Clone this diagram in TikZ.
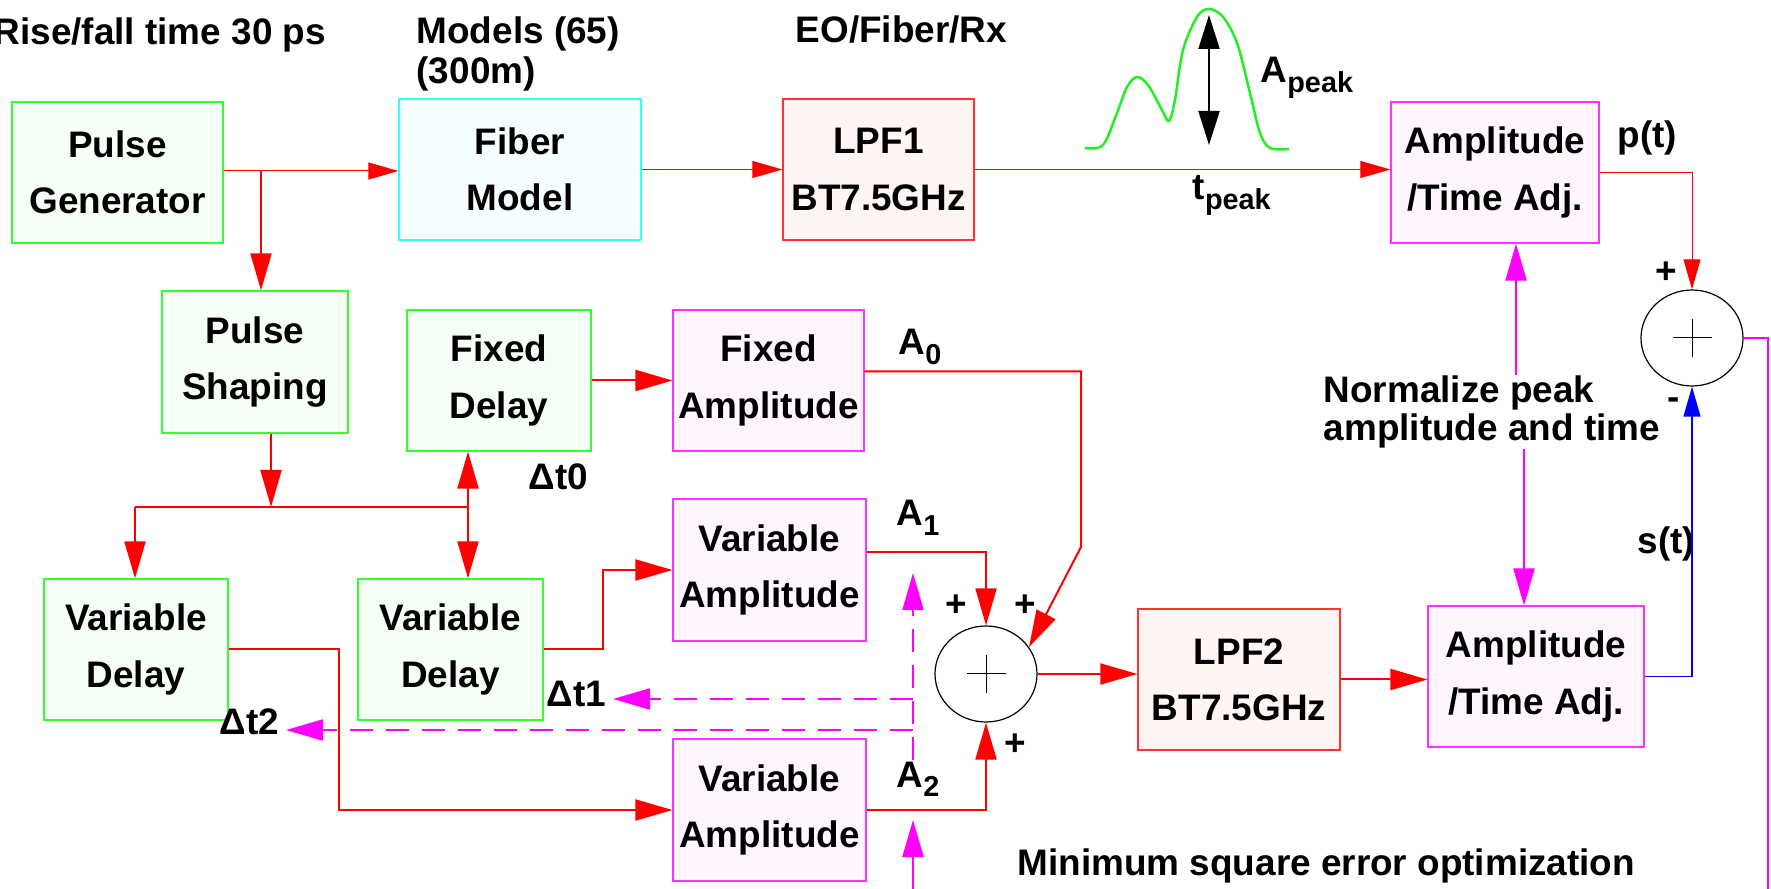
\documentclass[tikz,border=0pt]{standalone}
\usepackage{fontspec}
\setmainfont{Liberation Sans}
\usetikzlibrary{arrows.meta,shapes.geometric}
\definecolor{gline}{HTML}{33FF33}
\definecolor{gfill}{HTML}{F5FFF5}
\definecolor{cline}{HTML}{33FFFF}
\definecolor{cfill}{HTML}{F5FFFF}
\definecolor{rline}{HTML}{FF3333}
\definecolor{rfill}{HTML}{FFF5F5}
\definecolor{mline}{HTML}{FF33FF}
\definecolor{mfill}{HTML}{FFF5FF}
\definecolor{mag}{HTML}{FF00FF}
\definecolor{wave}{HTML}{22F022}
\newcommand{\lowsub}[1]{\raisebox{-0.95mm}{\fontsize{8.2}{8.2}\selectfont #1}}
\tikzset{
  lbl/.style={font=\fontsize{10.5}{16}\selectfont\bfseries, inner sep=0pt},
  blk/.style={lbl, draw, line width=0.12mm, align=center, minimum height=14.1mm},
  grnblk/.style={blk, draw=gline, fill=gfill},
  cynblk/.style={blk, draw=cline, fill=cfill},
  redblk/.style={blk, draw=rline, fill=rfill},
  magblk/.style={blk, draw=mline, fill=mfill},
  sumnode/.style={ellipse, draw, line width=0.12mm, minimum width=10.2mm, minimum height=9.6mm, inner sep=0pt},
  sarr/.style={-{Triangle[length=3mm,width=1.7mm]}},
  barr/.style={-{Triangle[length=3.7mm,width=2.1mm]}},
  thinred/.style={red, line width=0.1mm},
  thickred/.style={red, line width=0.2mm},
  magline/.style={mag, line width=0.22mm},
  magdash/.style={mag, line width=0.2mm, dash pattern=on 2.3mm off 1.3mm},
}
\begin{document}
\begin{tikzpicture}[x=0.1mm,y=-0.1mm]
 \useasboundingbox (0,0) rectangle (1771,889);
 % top row
 \node[grnblk, minimum width=21.1mm] (pg) at (117.5,172.5) {Pulse\\Generator};
 \node[cynblk, minimum width=24.2mm] (fib) at (520,169.5) {Fiber\\Model};
 \node[redblk, minimum width=19.1mm] (lpfa) at (878.5,169.5) {LPF1\\BT7.5GHz};
 \node[magblk, minimum width=20.8mm] (adja) at (1495,172.5) {Amplitude\\/Time Adj.};
 % lower blocks
 \node[grnblk, minimum width=18.6mm, minimum height=14.2mm] (shp) at (255,362) {Pulse\\Shaping};
 \node[grnblk, minimum width=18.4mm] (fxd) at (499,380.5) {Fixed\\Delay};
 \node[magblk, minimum width=19.1mm] (fxa) at (768.5,380.5) {Fixed\\Amplitude};
 \node[magblk, minimum width=19.3mm, minimum height=14.2mm] (vaa) at (769.5,570) {Variable\\Amplitude};
 \node[grnblk, minimum width=18.4mm] (vda) at (136,649.5) {Variable\\Delay};
 \node[grnblk, minimum width=18.5mm] (vdb) at (450.5,649.5) {Variable\\Delay};
 \node[magblk, minimum width=19.3mm, minimum height=14.2mm] (vab) at (769.5,810) {Variable\\Amplitude};
 \node[redblk, minimum width=20.2mm] (lpfb) at (1239,679.5) {LPF2\\BT7.5GHz};
 \node[magblk, minimum width=21.6mm] (adjb) at (1536,676.5) {Amplitude\\/Time Adj.};
 \node[sumnode] (suma) at (1692,338) {};
 \node[sumnode] (sumb) at (986,674) {};
 \foreach \s in {suma,sumb}
  \draw[line width=0.1mm] ([xshift=-1.95mm]\s.center) -- ([xshift=1.95mm]\s.center)
   ([yshift=-1.9mm]\s.center) -- ([yshift=1.9mm]\s.center);
 % texts
 \node[lbl, anchor=base west] (rise) at (-7,45) {Rise/fall time 30 ps};
 \node[lbl, anchor=north west, align=left, font=\fontsize{10.5}{11.4}\selectfont\bfseries] (mdl) at (416,16) {Models (65)\\(300m)};
 \node[lbl, anchor=base west] (eo) at (795,43) {EO/Fiber/Rx};
 \node[lbl, anchor=base west] (apk) at (1260,83) {A\lowsub{peak}};
 \node[lbl, anchor=base west] (tpk) at (1192,200) {t\lowsub{peak}};
 \node[lbl, anchor=base west] (pt) at (1617,148) {p(t)};
 \node[lbl, anchor=base west] (st) at (1637,554) {s(t)};
 \node[lbl, anchor=base west] (aa0) at (898,355) {A\lowsub{0}};
 \node[lbl, anchor=base west] (aa1) at (896,526) {A\lowsub{1}};
 \node[lbl, anchor=base west] (aa2) at (896,787) {A\lowsub{2}};
 \node[lbl, anchor=base west] (dt0) at (528,490) {Δt0};
 \node[lbl, anchor=base east, inner xsep=0.6mm] (dta) at (613,707) {Δt1};
 \node[lbl, anchor=base east, inner xsep=0.6mm] (dtb) at (286,734) {Δt2};
 \node[lbl] (pla) at (1666,273) {+};
 \node[lbl] (mna) at (1674,404) {-};
 \node[lbl] (plb) at (956,606) {+};
 \node[lbl] (plc) at (1025,606) {+};
 \node[lbl] (pld) at (1015,745) {+};
 \node[lbl, anchor=north west, align=left, font=\fontsize{10.5}{10.8}\selectfont\bfseries] (nrm) at (1323,375) {Normalize peak\\amplitude and time};
 \node[lbl, anchor=base west] (mse) at (1017,875) {Minimum square error optimization};
 % pulse shape
 \draw[wave, line width=0.25mm] plot[smooth, tension=0.55] coordinates {(1085,148) (1103,145) (1117,113) (1127,87) (1137,77) (1148,85) (1162,110) (1169,121) (1175,100) (1183,50) (1197,17) (1209,9) (1223,17) (1237,43) (1250,93) (1260,133) (1270,148) (1289,149)};
 \draw[line width=0.2mm, {Triangle[length=3.4mm,width=2.1mm]}-{Triangle[length=3.4mm,width=2.1mm]}] (1209,15) -- (1209,145);
 % signal path
 \coordinate (brk) at (261,171);
 \draw[thinred, sarr] (pg.east |- brk) -- (fib.west |- brk);
 \draw[thinred, sarr] (fib.east) -- (lpfa.west);
 \draw[thinred, sarr] (lpfa.east) -- (lpfa.east -| adja.west);
 \draw[thinred, sarr] (adja.east) -| (suma.north);
 \draw[thickred, barr] (brk) -- (brk |- shp.north);
 \coordinate (jc) at (271,507);
 \coordinate (jl) at (135,507);
 \coordinate (jr) at (468,507);
 \draw[thickred, barr] (jc |- shp.south) -- (jc);
 \draw[thickred] (jl) -- (jr);
 \draw[thickred, barr] (jl) -- (jl |- vda.north);
 \draw[thickred, barr] (jr) -- (jr |- vdb.north);
 \draw[thickred, barr] (jr) -- (jr |- fxd.south);
 \draw[thickred, barr] (fxd.east) -- (fxa.west);
 \coordinate (fk) at (1081,547);
 \draw[thickred, barr] ([yshift=0.9mm]fxa.east) -| (fk) -- (sumb.32);
 \draw[thickred, barr] (vdb.east) -- ++(59,0) |- (vaa.west);
 \draw[thickred, barr] ([yshift=1.8mm]vaa.east) -| (sumb.north);
 \draw[thickred, barr] (vda.east) -- ++(110,0) |- (vab.west);
 \draw[thickred, barr] (vab.east) -| (sumb.south);
 \draw[thickred, barr] (sumb.east) -- (sumb.east -| lpfb.west);
 \draw[thickred, barr] (lpfb.east) -- (lpfb.east -| adjb.west);
 \draw[blue, line width=0.12mm, sarr] (adjb.east) -| (suma.south);
 \coordinate (fbk) at (1768,900);
 \draw[magline] (suma.east) -| (fbk);
 % normalization
 \coordinate (nup) at (1516,0);
 \coordinate (ndn) at (1524,0);
 \draw[magline, barr] (nrm.north -| nup) -- (nup |- adja.south);
 \draw[magline, barr] (nrm.south -| ndn) -- (ndn |- adjb.north);
 % optimizer feedback
 \coordinate (dtop) at (913,573);
 \coordinate (dbot) at (913,760);
 \coordinate (dka) at (913,699);
 \coordinate (dkb) at (913,730);
 \draw[magdash, barr] (dbot) -- (dtop);
 \draw[magdash, barr] (dka) -- (dka -| dta.east);
 \draw[magdash, barr] (dkb) -- (dkb -| dtb.east);
 \coordinate (mbot) at (913,900);
 \coordinate (mtip) at (913,820);
 \draw[magline, barr] (mbot) -- (mtip);
\end{tikzpicture}
\end{document}
